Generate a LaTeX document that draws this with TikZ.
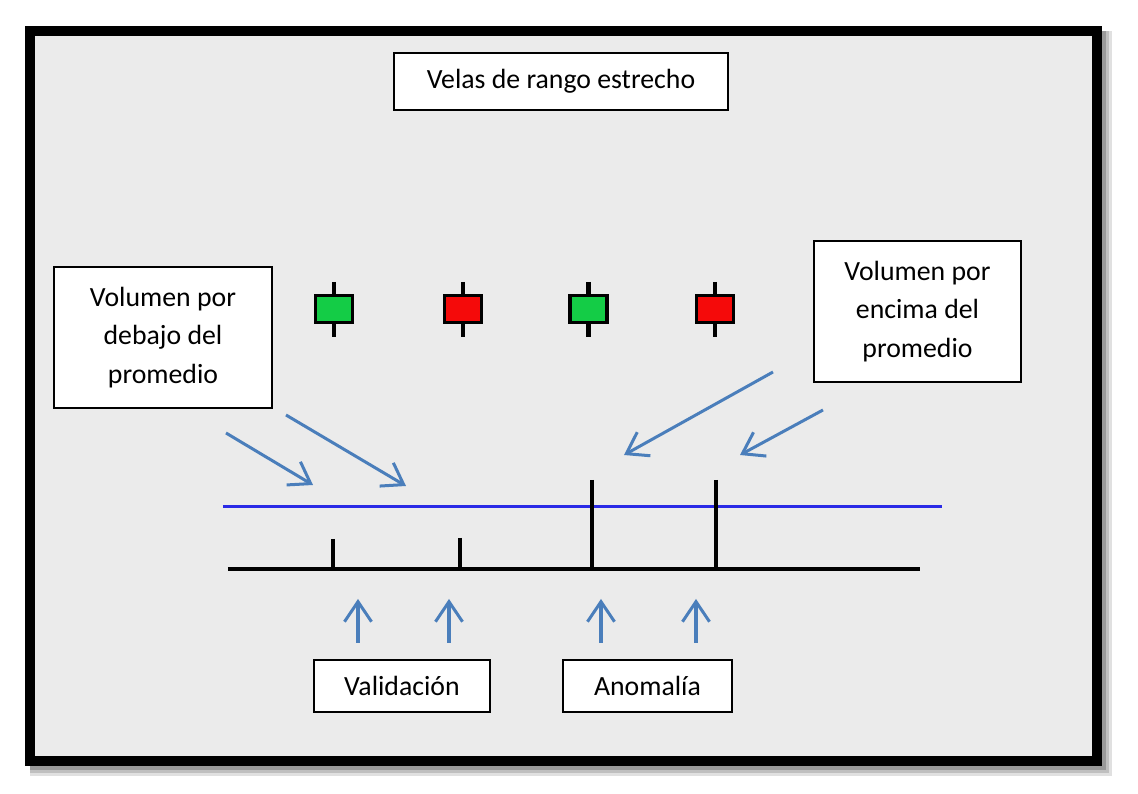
\documentclass[tikz,border=0pt]{standalone}
\usepackage{fontspec}
\setmainfont{Carlito}
\usetikzlibrary{arrows.meta}
\definecolor{bg}{HTML}{EBEBEB}
\definecolor{arrblue}{HTML}{4A7EBB}
\definecolor{avgblue}{HTML}{2A2AE6}
\definecolor{cgreen}{HTML}{14CC46}
\definecolor{cred}{HTML}{F50A0A}
\tikzset{
  box/.style={draw=black, line width=0.02cm, fill=white, inner sep=0pt, align=center,
    font=\fontsize{7.9}{11}\selectfont},
  pointer/.style={draw=arrblue, line width=0.03cm,
    -{Straight Barb[length=0.2cm, width=0.27cm, line width=0.03cm]}},
  candlebody/.style={draw=black, line width=0.03cm},
  wick/.style={draw=black, line width=0.04cm},
  bar/.style={draw=black, line width=0.04cm},
}
\begin{document}
\begin{tikzpicture}[x=0.01cm, y=-0.01cm]
\useasboundingbox (0,0) rectangle (1138,794);
\fill[white] (0,0) rectangle (1138,794);
% shadow
\fill[black!12] (30,31) rectangle (1112,776);
\fill[black!25] (30,31) rectangle (1109,773);
\fill[black!40] (30,31) rectangle (1106,770);
% frame
\draw[line width=0.1cm, fill=bg] (30,31) rectangle (1097,761);

% text boxes
\node[box, minimum width=3.34cm, minimum height=0.57cm] (title) at (561,81.5) {Velas de rango estrecho};
\node[box, minimum width=2.18cm, minimum height=1.41cm] (below) at (163,337.5) {Volumen por\\debajo del\\promedio};
\node[box, minimum width=2.07cm, minimum height=1.41cm] (above) at (917.5,311.5) {Volumen por\\encima del\\promedio};
\node[box, minimum width=1.76cm, minimum height=0.52cm] (valid) at (402,686) {Validación};
\node[box, minimum width=1.69cm, minimum height=0.52cm] (anom) at (647.5,686) {Anomalía};

% candles
\foreach \cx/\col in {334/cgreen, 463/cred, 588.5/cgreen, 715/cred}{
  \draw[wick] (\cx,282) -- (\cx,337);
  \draw[candlebody, fill=\col] (\cx-18.5,296) rectangle (\cx+18.5,323);
}

% average line
\draw[avgblue, line width=0.03cm] (223,507) -- (942,507);

% volume axis and bars
\draw[bar] (228,569) -- (920,569);
\draw[bar] (333,539) -- (333,569);
\draw[bar] (460,538) -- (460,569);
\draw[bar] (592,480) -- (592,569);
\draw[bar] (716,480) -- (716,569);

% arrow coordinates
\coordinate (a1s) at (226,433); \coordinate (a1e) at (313,485);
\coordinate (a2s) at (286,415); \coordinate (a2e) at (406,486);
\coordinate (a3s) at (773,372); \coordinate (a3e) at (624,455);
\coordinate (a4s) at (823,410); \coordinate (a4e) at (740,455);
\coordinate (u1s) at (358,643); \coordinate (u1e) at (358,599);
\coordinate (u2s) at (449,643); \coordinate (u2e) at (449,599);
\coordinate (u3s) at (601,643); \coordinate (u3e) at (601,599);
\coordinate (u4s) at (696,643); \coordinate (u4e) at (696,599);

\draw[pointer] (a1s) -- (a1e);
\draw[pointer] (a2s) -- (a2e);
\draw[pointer] (a3s) -- (a3e);
\draw[pointer] (a4s) -- (a4e);
\draw[pointer] (u1s) -- (u1e);
\draw[pointer] (u2s) -- (u2e);
\draw[pointer] (u3s) -- (u3e);
\draw[pointer] (u4s) -- (u4e);
\end{tikzpicture}
\end{document}
